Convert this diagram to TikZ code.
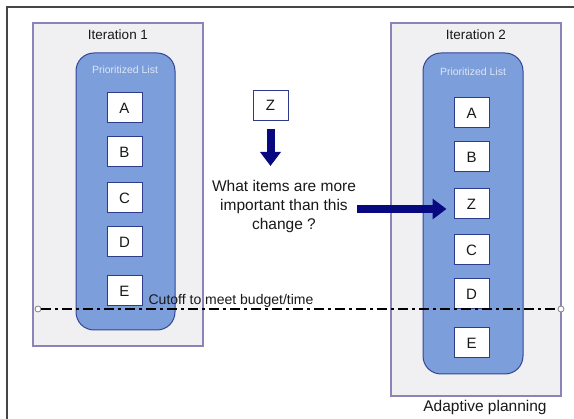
\documentclass[tikz,border=0pt]{standalone}
\usepackage{fontspec}
\setmainfont{Liberation Sans}
\usetikzlibrary{arrows.meta,calc}
\definecolor{iterfill}{RGB}{240,240,242}
\definecolor{iterline}{RGB}{138,132,184}
\definecolor{listfill}{RGB}{124,158,219}
\definecolor{listline}{RGB}{52,68,150}
\definecolor{listtext}{RGB}{222,230,248}
\definecolor{itemline}{RGB}{46,60,140}
\definecolor{navyarrow}{RGB}{8,8,128}
\definecolor{framegrey}{RGB}{70,70,70}
\definecolor{textgrey}{RGB}{25,25,25}
\tikzset{
  iterbox/.style={draw=iterline, fill=iterfill, line width=1.2pt},
  listbox/.style={draw=listline, fill=listfill, line width=1pt, rounded corners=18pt},
  item/.style={draw=itemline, fill=white, line width=1pt, minimum width=35pt,
    minimum height=30pt, inner sep=0pt, text=textgrey, font=\fontsize{15}{17}\selectfont},
  ititle/.style={text=textgrey, font=\fontsize{13.5}{15}\selectfont},
  ltitle/.style={text=listtext, font=\fontsize{10.5}{12}\selectfont},
  bigarrow/.style={draw=navyarrow, line width=8pt,
    -{Triangle[width=20pt,length=14pt]}},
  cutline/.style={line width=1.6pt, dash pattern=on 10pt off 4pt on 3pt off 4pt},
  endmark/.style={circle, draw=gray, fill=white, line width=0.8pt,
    minimum size=6pt, inner sep=0pt},
}
\begin{document}
\begin{tikzpicture}[x=1pt, y=-1pt]
\useasboundingbox (0,0) rectangle (574,419);
\fill[white] (0,0) rectangle (574,419);
% page frame (left and top edges)
\draw[framegrey, line width=1.5pt] (574,7) -- (7,7) -- (7,419);

% iteration containers
\draw[iterbox] (33,23) rectangle (203,346);
\draw[iterbox] (391,23) rectangle (561,396);
\node[ititle] (it1) at (118,35) {Iteration 1};
\node[ititle] (it2) at (476,35) {Iteration 2};

% prioritized lists
\draw[listbox] (76,53) rectangle (175,330);
\draw[listbox] (423,53) rectangle (523,374);
\node[ltitle] (pl1) at (125,70) {Prioritized List};
\node[ltitle] (pl2) at (473,72) {Prioritized List};

% items of iteration 1
\node[item] (a1) at (124.5,108) {A};
\node[item] (b1) at (124.5,152) {B};
\node[item] (c1) at (124.5,198) {C};
\node[item] (d1) at (124.5,242) {D};
\node[item] (e1) at (124.5,291) {E};

% items of iteration 2
\node[item] (a2) at (471.5,113) {A};
\node[item] (b2) at (471.5,157) {B};
\node[item] (z2) at (471.5,204) {Z};
\node[item] (c2) at (471.5,250) {C};
\node[item] (d2) at (471.5,294) {D};
\node[item] (e2) at (471.5,343) {E};

% incoming change
\node[item] (z) at (270.5,105.5) {Z};
\node[align=center, text=textgrey, font=\fontsize{15.5}{19}\selectfont] (q) at (284,206)
  {What items are more\\important than this\\change ?};
\coordinate (downend) at (270.5,166);
\draw[bigarrow] ([yshift=-8pt]z.south) -- (downend);
\coordinate (arrstart) at (357,209);
\draw[bigarrow] (arrstart) -- ([xshift=-7pt]z2.west |- arrstart);

% cutoff line
\node[endmark] (cl) at (38,309) {};
\node[endmark] (cr) at (561,309) {};
\draw[cutline] (cl) -- (cr);
\node[text=textgrey, font=\fontsize{14}{16}\selectfont] (cut) at (231,301) {Cutoff to meet budget/time};

\node[text=textgrey, font=\fontsize{15.5}{18}\selectfont] (ap) at (485,407) {Adaptive planning};
\end{tikzpicture}
\end{document}
